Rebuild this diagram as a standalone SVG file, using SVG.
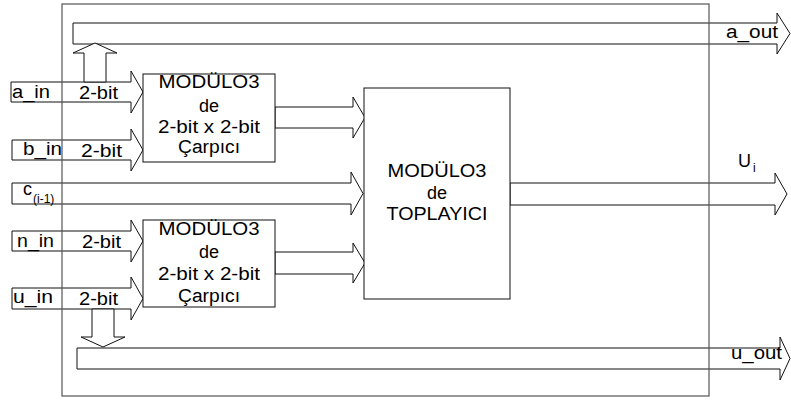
<svg xmlns="http://www.w3.org/2000/svg" width="791" height="400" viewBox="0 0 791 400">
<style>
.arr{fill:#fff;stroke:#111;stroke-width:1}
.box{fill:#fff;stroke:#111;stroke-width:1}
.outer{fill:none;stroke:#555;stroke-width:1.2}
text{font-family:"Liberation Sans",Arial,sans-serif;font-size:18px;fill:#000}
.c{text-anchor:middle}
.sub{font-size:12px}
</style>
<rect width="791" height="400" fill="#fff"/>
<g id="connectors">
<polygon class="arr" points="73,23 777,23 777,13 790,33.5 777,54 777,44 73,44"/>
<polygon class="arr" points="77,348 780,348 780,337 790,358.5 780,380 780,369 77,369"/>
<polygon class="arr" points="11,82 131,82 131,71 143,92 131,113 131,102 11,102"/>
<polygon class="arr" points="84,82 84,53 73,53 95,43 117,53 106,53 106,82"/>
<polygon class="arr" points="12,140 131,140 131,129 143,150 131,171 131,160 12,160"/>
<polygon class="arr" points="12,183 351,183 351,172 363,193.5 351,215 351,204 12,204"/>
<polygon class="arr" points="12,231 131,231 131,220 143,241 131,262 131,251 12,251"/>
<polygon class="arr" points="12,288 131,288 131,277 143,298.5 131,320 131,309 12,309"/>
<polygon class="arr" points="92,309 92,337 81,337 103,347 125,337 114,337 114,309"/>
<polygon class="arr" points="275,107 353,107 353,97 365,117.5 353,138 353,128 275,128"/>
<polygon class="arr" points="275,252 353,252 353,243 365,263 353,283 353,274 275,274"/>
<polygon class="arr" points="510,183 775,183 775,173 787,194 775,215 775,205 510,205"/>
</g>
<rect class="outer" x="62" y="4" width="647" height="392"/>
<g id="mult1">
<rect class="box" x="143" y="74" width="132" height="88"/>
<text class="c" x="209" y="88" textLength="101" lengthAdjust="spacingAndGlyphs">MODÜLO3</text>
<text class="c" x="209" y="112">de</text>
<text class="c" x="209" y="133" textLength="102" lengthAdjust="spacingAndGlyphs">2-bit x 2-bit</text>
<text class="c" x="209" y="153" textLength="62" lengthAdjust="spacingAndGlyphs">Çarpıcı</text>
</g>
<g id="mult2">
<rect class="box" x="143" y="220" width="132" height="87"/>
<text class="c" x="209" y="235" textLength="101" lengthAdjust="spacingAndGlyphs">MODÜLO3</text>
<text class="c" x="209" y="258">de</text>
<text class="c" x="209" y="280" textLength="102" lengthAdjust="spacingAndGlyphs">2-bit x 2-bit</text>
<text class="c" x="209" y="302" textLength="62" lengthAdjust="spacingAndGlyphs">Çarpıcı</text>
</g>
<g id="adder">
<rect class="box" x="364" y="88" width="146" height="211"/>
<text class="c" x="437" y="177" textLength="99" lengthAdjust="spacingAndGlyphs">MODÜLO3</text>
<text class="c" x="437" y="199">de</text>
<text class="c" x="437" y="220" textLength="101" lengthAdjust="spacingAndGlyphs">TOPLAYICI</text>
</g>
<g id="labels">
<text x="12" y="98" textLength="38" lengthAdjust="spacingAndGlyphs">a_in</text>
<text x="79" y="99" textLength="39" lengthAdjust="spacingAndGlyphs">2-bit</text>
<text x="23" y="155" textLength="39" lengthAdjust="spacingAndGlyphs">b_in</text>
<text x="81" y="157" textLength="41" lengthAdjust="spacingAndGlyphs">2-bit</text>
<text x="23" y="195">c</text>
<text class="sub" x="33" y="203">(i-1)</text>
<text x="17" y="247" textLength="37" lengthAdjust="spacingAndGlyphs">n_in</text>
<text x="82" y="248" textLength="39" lengthAdjust="spacingAndGlyphs">2-bit</text>
<text x="13" y="303" textLength="40" lengthAdjust="spacingAndGlyphs">u_in</text>
<text x="79" y="305" textLength="39" lengthAdjust="spacingAndGlyphs">2-bit</text>
<text x="726" y="38" textLength="52" lengthAdjust="spacingAndGlyphs">a_out</text>
<text x="738" y="167">U</text>
<text class="sub" x="753" y="172">i</text>
<text x="731" y="359" textLength="51" lengthAdjust="spacingAndGlyphs">u_out</text>
</g>
</svg>
